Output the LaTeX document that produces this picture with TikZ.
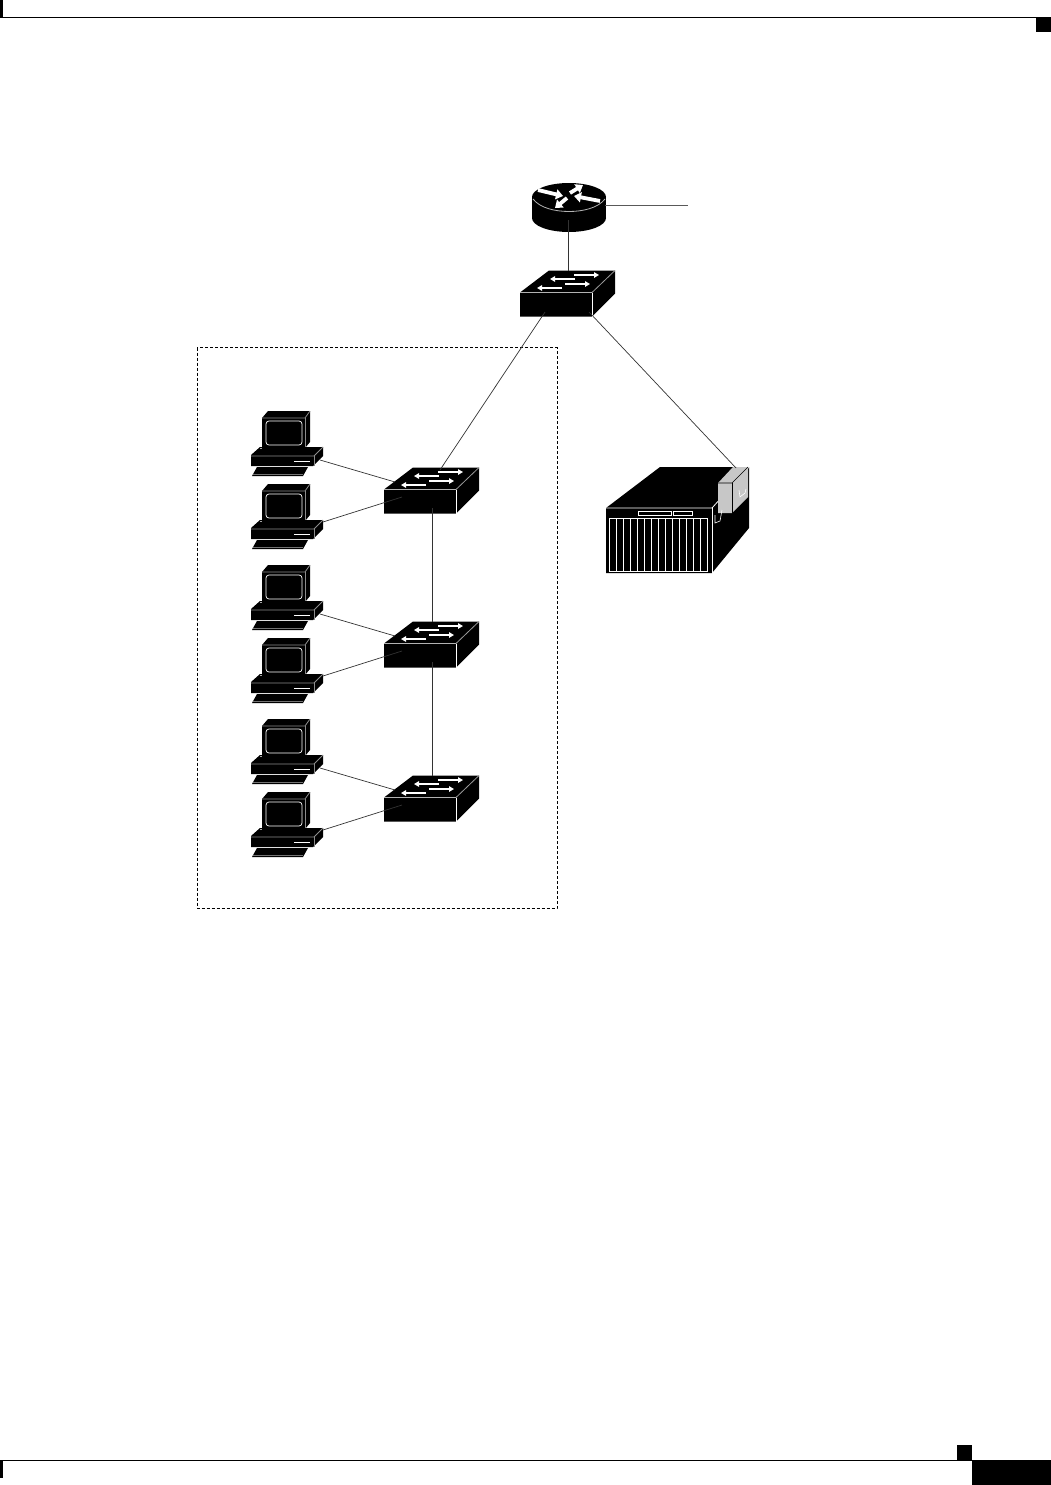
\documentclass[tikz,border=0pt]{standalone}
\usetikzlibrary{arrows.meta}
\tikzset{
  wire/.style={draw=black!80,line width=0.7pt},
  sarrow/.style={draw=white,line width=1.4pt,-{Triangle[length=5pt,width=5.5pt]}},
  rarrow/.style={draw=white,line width=3.8pt,-{Triangle[length=7pt,width=10pt]}},
  edge/.style={draw=white,line width=0.8pt},
  switchicon/.pic={
    \fill[black] (0,-0.5) -- (29,-22.5) -- (95,-22.5) -- (95,0.5) -- (72,23.5) -- (0,23.5) -- cycle;
    \draw[edge,draw=black!30] (0,-0.5) -- (72,-0.5);
    \draw[edge] (72,-0.5) -- (72,23.5);
    \draw[edge,draw=black!40] (72,-0.5) -- (95,-22.5);
    \draw[sarrow] (55,-14) -- (30,-14);
    \draw[sarrow] (54,-18) -- (79,-18);
    \draw[sarrow] (42,-5) -- (17,-5);
    \draw[sarrow] (45,-9) -- (70,-9);
    \coordinate (-topT) at (48,-22.5);
    \coordinate (-top) at (56,-20);
    \coordinate (-bot) at (48,18);
    \coordinate (-pa) at (11,-8);
    \coordinate (-pb) at (18,7);
    \coordinate (-dl) at (25,19);
    \coordinate (-dr) at (69,19);
  },
  pcicon/.pic={
    \fill[black] (0,0) -- (6,-7) -- (48,-7) -- (48,24) -- (43,30) -- (0,30) -- cycle;
    \draw[edge,draw=black!45] (0,0) -- (43,0) -- (48,-7);
    \draw[edge,draw=black!45] (43,0) -- (43,30);
    \draw[white,line width=0.7pt,rounded corners=3pt] (4,3) rectangle (40,27);
    \fill[black] (-11,37) -- (-2,29) -- (61,29) -- (61,38) -- (51,48) -- (-11,48) -- cycle;
    \draw[edge,draw=black!45] (-11,38) -- (52,38) -- (61,29);
    \draw[edge,draw=black!45] (52,38) -- (52,48);
    \draw[edge,draw=black!35] (-2,30) -- (0,30);
    \draw[white,line width=0.8pt] (32,43) -- (48,43);
    \fill[black] (-10,58) -- (41,58) -- (46,49) -- (-5,49) -- cycle;
    \draw[black!55,line width=0.6pt] (-9,56) -- (41,56);
    \coordinate (-pa) at (58,42);
    \coordinate (-pb) at (61,31);
  },
}
\begin{document}
\begin{tikzpicture}[x=1pt,y=-1pt]
\useasboundingbox (0,0) rectangle (1051,1485);
% page furniture
\fill[black] (0,0) rectangle (3,17);
\draw[black,line width=1pt] (0,17.5) -- (1036,17.5);
\fill[black] (1036,17) rectangle (1051,32);
\draw[black,line width=1pt] (0,1460.5) -- (972,1460.5);
\fill[black] (0,1460) rectangle (3,1478);
\fill[black] (957,1445) rectangle (972,1460);
\fill[black] (972,1460) rectangle (1051,1485);
% dashed area
\draw[black,line width=0.6pt,dash pattern=on 3pt off 2pt] (197,347.5) rectangle (557,908);
% router
\fill[black] (569,218) ellipse[x radius=37,y radius=14];
\fill[black] (532,197) rectangle (606,218);
\fill[black] (569,197) ellipse[x radius=37,y radius=14];
\draw[edge,draw=black!30] (533,199) .. controls (540,208) and (555,211.5) .. (569,211.5) .. controls (583,211.5) and (598,208) .. (605,199);
\draw[rarrow] (538,190) -- (563,196);
\draw[rarrow] (570,193) -- (583,185);
\draw[rarrow] (600,201) -- (574,196);
\draw[rarrow] (567,198) -- (555,208);
\coordinate (rbot) at (568,220);
\coordinate (rright) at (605,205);
\coordinate (rfree) at (688,205);
% switches
\pic (s0) at (520,293) {switchicon};
\pic (s1) at (384,490) {switchicon};
\pic (s2) at (384,644) {switchicon};
\pic (s3) at (384,798) {switchicon};
% PCs
\pic (p1) at (262,418) {pcicon};
\pic (p2) at (262,491) {pcicon};
\pic (p3) at (262,572) {pcicon};
\pic (p4) at (262,645) {pcicon};
\pic (p5) at (262,726) {pcicon};
\pic (p6) at (262,799) {pcicon};
% server
\fill[black] (606,508) -- (660,467) -- (749,467) -- (749,528) -- (712,573) -- (606,573) -- cycle;
\draw[edge] (606,508) -- (712,508) -- (749,467);
\draw[edge] (712,508) -- (712,573);
\draw[white,line width=0.8pt] (609,518) rectangle (707,571);
\foreach \i in {1,...,13} {\draw[white,line width=0.8pt] ({609+\i*98/14},518) -- ({609+\i*98/14},571);}
\draw[white,line width=0.8pt] (638,511) rectangle (671,515);
\draw[white,line width=0.8pt] (673,511) rectangle (692,515);
\fill[black!22] (718,483) -- (733,467) -- (748,467) -- (748,497) -- (732,513) -- (718,513) -- cycle;
\draw[black,line width=0.6pt] (718,483) -- (732,483) -- (748,467);
\draw[black,line width=0.6pt] (732,483) -- (732,513);
\draw[white,line width=0.6pt] (715,515) -- (715,523) -- (720,521) -- (722,510);
\draw[white,line width=0.6pt] (739,490) -- (740,497) -- (745,493) -- (746,489);
\coordinate (srv) at (736,468);
% connectors
\draw[wire] (rbot) -- (s0-topT);
\draw[wire,draw=black!65] (rright) -- (rfree);
\draw[wire] (s0-dl) -- (s1-top);
\draw[wire] (s0-dr) -- (srv);
\draw[wire] (s1-bot) -- (s2-topT);
\draw[wire] (s2-bot) -- (s3-topT);
\draw[wire] (p1-pa) -- (s1-pa);
\draw[wire] (p2-pb) -- (s1-pb);
\draw[wire] (p3-pa) -- (s2-pa);
\draw[wire] (p4-pb) -- (s2-pb);
\draw[wire] (p5-pa) -- (s3-pa);
\draw[wire] (p6-pb) -- (s3-pb);
\end{tikzpicture}
\end{document}
